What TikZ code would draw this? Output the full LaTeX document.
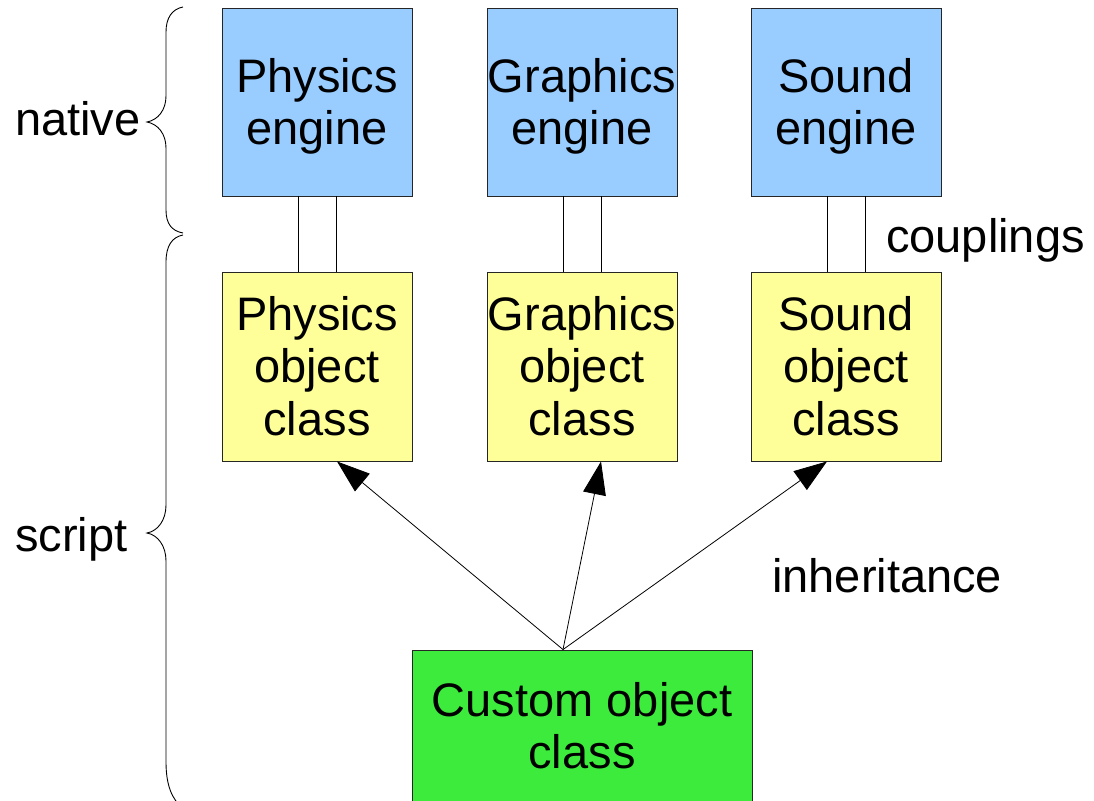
\documentclass[tikz,border=0pt]{standalone}
\usepackage{fontspec}
\setmainfont{Liberation Sans}
\usetikzlibrary{arrows.meta,calc}
\definecolor{engineblue}{HTML}{99CCFF}
\definecolor{classyellow}{HTML}{FFFF99}
\definecolor{customgreen}{HTML}{3DEB3D}
% struts giving each text block the full ascent and descent of the font
\newcommand\tstrut{\rule{0pt}{42.5pt}}
\newcommand\bstrut{\rule[-10pt]{0pt}{10pt}}
\begin{document}
\begin{tikzpicture}[x=1pt,y=-1pt,
  every node/.style={font=\fontsize{47}{52.5}\selectfont},
  basebox/.style={draw=black!85, line width=0.9pt, inner sep=0pt, align=center},
  enginebox/.style={basebox, fill=engineblue, minimum width=190pt, minimum height=188pt},
  classbox/.style={basebox, fill=classyellow, minimum width=190pt, minimum height=189pt},
  custombox/.style={basebox, fill=customgreen, minimum width=340pt, minimum height=152pt},
  sidetext/.style={inner sep=0pt, anchor=base west},
  couplingline/.style={line width=0.9pt},
  inheritarrow/.style={line width=0.8pt, -{Triangle[length=33pt,width=23pt]}},
  bracepath/.style={line width=0.9pt}]
\useasboundingbox (0,0) rectangle (1094,800);

% native engines
\node[enginebox] (pe) at (317,102) {\tstrut Physics\\engine\bstrut};
\node[enginebox] (ge) at (582,102) {\tstrut Graphics\\engine\bstrut};
\node[enginebox] (se) at (846,102) {\tstrut Sound\\engine\bstrut};

% script-side object classes
\node[classbox] (po) at (317,366.5) {\tstrut Physics\\object\\class\bstrut};
\node[classbox] (go) at (582,366.5) {\tstrut Graphics\\object\\class\bstrut};
\node[classbox] (so) at (846,366.5) {\tstrut Sound\\object\\class\bstrut};

% user class
\node[custombox] (cu) at (582,726) {\tstrut Custom object\\class\bstrut};

% couplings: a pair of lines between each engine and its class
\foreach \e/\c in {pe/po, ge/go, se/so}{
  \draw[couplingline] ($(\e.south)+(-19,0)$) -- ($(\c.north)+(-19,0)$);
  \draw[couplingline] ($(\e.south)+(19,0)$) -- ($(\c.north)+(19,0)$);
}

% inheritance arrows
\draw[inheritarrow] ($(cu.north)+(-19,0)$) -- ($(po.south)+(20,0)$);
\draw[inheritarrow] ($(cu.north)+(-19,0)$) -- ($(go.south)+(19,0)$);
\draw[inheritarrow] ($(cu.north)+(-19,0)$) -- ($(so.south)+(-19,0)$);

% side labels
\node[sidetext] (native) at (15,135) {native};
\node[sidetext] (script) at (15,551) {script};
\node[sidetext] (couplings) at (886,252) {couplings};
\node[sidetext] (inheritance) at (772,592) {inheritance};

% braces
\draw[bracepath] (183,7) .. controls (172,9) and (166,18) .. (166,32)
  -- (166,96) .. controls (166,110) and (158,120) .. (147,122)
  .. controls (158,124) and (166,134) .. (166,148)
  -- (166,210) .. controls (166,224) and (172,231) .. (183,233);
\draw[bracepath] (183,235) .. controls (172,237) and (166,246) .. (166,262)
  -- (166,505) .. controls (166,520) and (158,531) .. (147,533)
  .. controls (158,535) and (166,546) .. (166,561)
  -- (166,762) .. controls (166,785) and (172,800) .. (183,808);
\end{tikzpicture}
\end{document}
